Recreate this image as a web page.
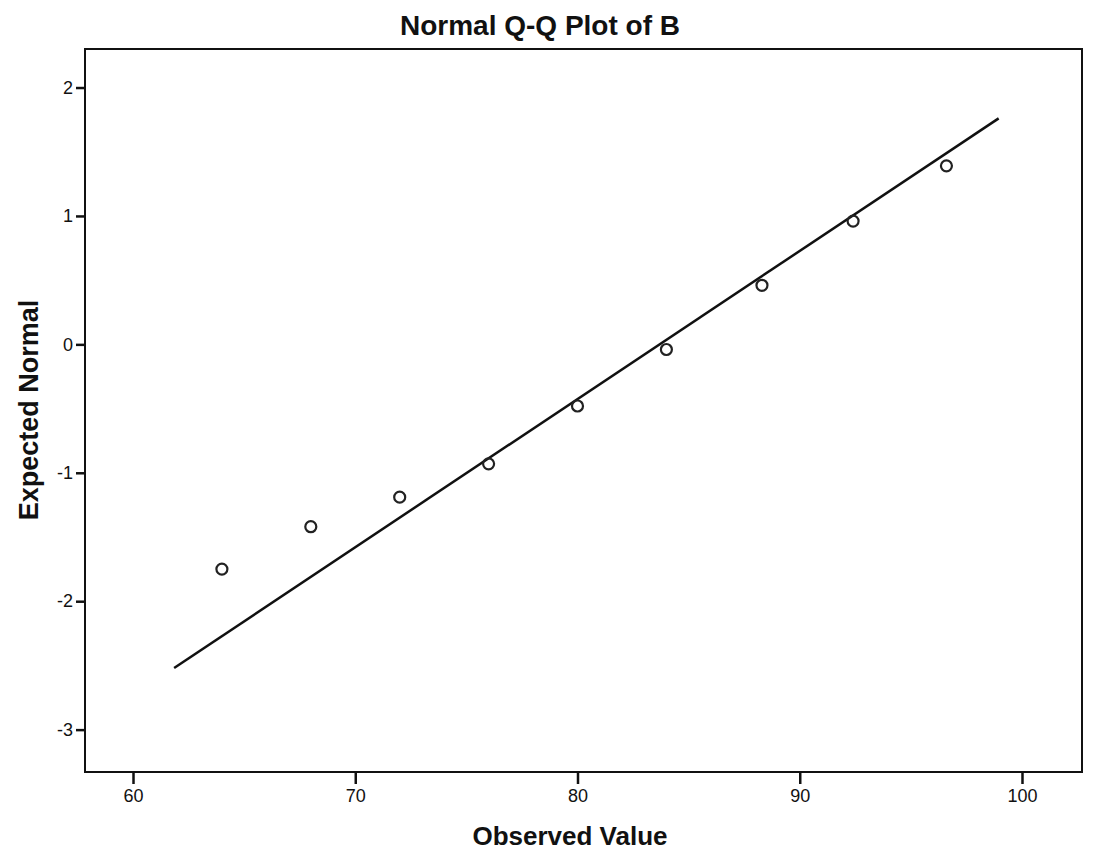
<!DOCTYPE html>
<html>
<head>
<meta charset="utf-8">
<script src="https://cdn.jsdelivr.net/npm/d3@7"></script>
<style>
  body { margin: 0; background: #fff; }
  text { font-family: "Liberation Sans", Arial, sans-serif; fill: #111; }
</style>
</head>
<body>
<div class="chartHolder"></div>
<script>
var observed = [64.0, 68.0, 72.0, 76.0, 80.0, 84.0, 88.3, 92.4, 96.6];
var expected = [-1.75, -1.42, -1.19, -0.93, -0.48, -0.04, 0.46, 0.96, 1.39];

// reference line endpoints
var lineX = [61.85, 98.95];
var lineY = [-2.52, 1.76];

var xTicks = [60, 70, 80, 90, 100];
var yTicks = [2, 1, 0, -1, -2, -3];

var width = 1093;
var height = 854;
var margin = { left: 85, top: 49, right: 11, bottom: 82 };

var svg = d3
  .select(".chartHolder")
  .append("svg")
  .attr("width", width)
  .attr("height", height);

var xScale = d3
  .scaleLinear()
  .domain([57.84, 102.7])
  .range([margin.left, width - margin.right]);

var yScale = d3
  .scaleLinear()
  .domain([-3.33, 2.3])
  .range([height - margin.bottom, margin.top]);

// plot frame
svg
  .append("rect")
  .attr("x", margin.left)
  .attr("y", margin.top)
  .attr("width", width - margin.left - margin.right)
  .attr("height", height - margin.top - margin.bottom)
  .attr("fill", "#fff")
  .attr("stroke", "#111")
  .attr("stroke-width", 2);

// x axis
var xAxis = d3
  .axisBottom(xScale)
  .tickValues(xTicks)
  .tickFormat(d3.format("d"))
  .tickSize(12)
  .tickPadding(5);
var xg = svg
  .append("g")
  .attr("transform", "translate(0," + (height - margin.bottom) + ")")
  .call(xAxis);
xg.select(".domain").remove();
xg.selectAll("line").attr("stroke", "#111").attr("stroke-width", 2.5);
xg.selectAll("text").style("font-size", "18px").attr("fill", "#222");

// y axis, plain hyphen for negatives like the original
var yAxis = d3
  .axisLeft(yScale)
  .tickValues(yTicks)
  .tickFormat((d) => String(d))
  .tickSize(9)
  .tickPadding(3);
var yg = svg
  .append("g")
  .attr("transform", "translate(" + margin.left + ",0)")
  .call(yAxis);
yg.select(".domain").remove();
yg.selectAll("line").attr("stroke", "#111").attr("stroke-width", 2.5);
yg.selectAll("text").style("font-size", "18px").attr("fill", "#222");

// fitted line
svg
  .append("line")
  .attr("x1", xScale(lineX[0]))
  .attr("y1", yScale(lineY[0]))
  .attr("x2", xScale(lineX[1]))
  .attr("y2", yScale(lineY[1]))
  .attr("stroke", "#111")
  .attr("stroke-width", 2.5);

// points
svg
  .selectAll("circle.pt")
  .data(observed)
  .enter()
  .append("circle")
  .attr("class", "pt")
  .attr("cx", (d) => xScale(d))
  .attr("cy", (d, i) => yScale(expected[i]))
  .attr("r", 5.5)
  .attr("fill", "none")
  .attr("stroke", "#222")
  .attr("stroke-width", 2.2);

// title and labels
svg
  .append("text")
  .attr("x", 540)
  .attr("y", 35)
  .attr("text-anchor", "middle")
  .style("font-size", "28px")
  .style("font-weight", "bold")
  .text("Normal Q-Q Plot of B");

svg
  .append("text")
  .attr("x", 570)
  .attr("y", 845)
  .attr("text-anchor", "middle")
  .style("font-size", "26px")
  .style("font-weight", "bold")
  .text("Observed Value");

svg
  .append("text")
  .attr("transform", "translate(38,410) rotate(-90)")
  .attr("text-anchor", "middle")
  .style("font-size", "27px")
  .style("font-weight", "bold")
  .text("Expected Normal");
</script>
</body>
</html>
